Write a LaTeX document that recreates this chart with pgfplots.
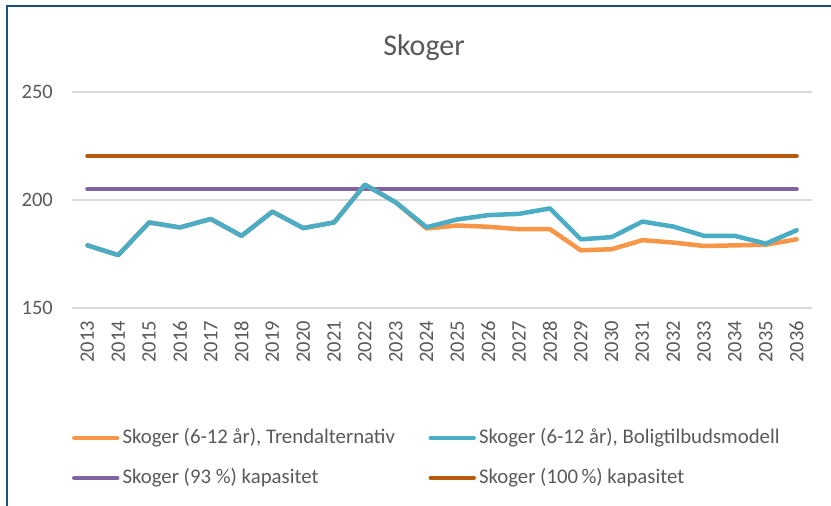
\documentclass[border=0pt]{standalone}
\usepackage{fontspec}
\setmainfont{Carlito}
\usepackage{pgfplots}
\pgfplotsset{compat=1.18}
\definecolor{trendc}{HTML}{F79646}
\definecolor{boligc}{HTML}{4BACC6}
\definecolor{cap93}{HTML}{8064A2}
\definecolor{cap100}{HTML}{B85A0D}
\definecolor{txtgrey}{HTML}{595959}
\definecolor{gridgrey}{HTML}{D9D9D9}
\definecolor{framec}{HTML}{1F4E79}
\begin{document}
\begin{tikzpicture}
\path[use as bounding box] (0,0) rectangle (831bp,506bp);
\draw[framec, line width=2bp] (6.5bp,0bp) -- (6.5bp,499.5bp) -- (831bp,499.5bp);
\node[anchor=base, text=txtgrey, font=\fontsize{30bp}{36bp}\selectfont, inner sep=0pt] at (424bp,450bp) {Skoger};
\begin{axis}[
  at={(72bp,198bp)}, anchor=south west,
  scale only axis, width=740bp, height=216bp,
  xmin=2012.5, xmax=2036.5, ymin=150, ymax=250,
  xtick={2013,...,2036}, ytick={150,200,250},
  major tick length=0pt,
  axis line style={draw=none},
  ymajorgrids, major grid style={gridgrey, line width=1.2bp},
  /pgf/number format/assume math mode=true,
  xticklabel style={/pgf/number format/1000 sep=, rotate=90, anchor=east, inner sep=0pt, text=txtgrey, font=\fontsize{20.5bp}{24bp}\selectfont},
  yticklabel style={anchor=east, inner sep=0pt, text=txtgrey, font=\fontsize{20.5bp}{24bp}\selectfont},
  xticklabel shift=13bp, yticklabel shift=19bp,
  clip=false,
  legend image code/.code={\draw[#1, line cap=round] (2.5bp,0bp) -- (45.5bp,0bp);},
  legend columns=2, legend cell align=left,
  legend style={draw=none, fill=none, inner sep=0pt, outer sep=0pt, column sep=3bp, row sep=20bp,
    at={(0,-0.5556)}, anchor=north west,
    nodes={inner sep=0pt, text width=303bp, align=flush left, text height=15bp, text depth=5bp, text=txtgrey, font=\fontsize{20.8bp}{24bp}\selectfont}},
  every axis plot/.append style={line width=4.5bp, line cap=round, line join=round},
]
\addlegendimage{trendc, line width=4.5bp}
\addlegendentry{Skoger (6-12 år), Trendalternativ}
\addlegendimage{boligc, line width=4.5bp}
\addlegendentry[text width=340bp]{Skoger (6-12 år), Boligtilbudsmodell}
\addlegendimage{cap93, line width=4.5bp}
\addlegendentry{Skoger (93 \%) kapasitet}
\addlegendimage{cap100, line width=4.5bp}
\addlegendentry[text width=340bp]{Skoger (100\,\%) kapasitet}
\addplot[cap100, forget plot] coordinates {(2013,220.4) (2036,220.4)};
\addplot[cap93, forget plot] coordinates {(2013,205.0) (2036,205.0)};
\addplot[trendc, forget plot] coordinates {
(2013,179.0) (2014,174.5) (2015,189.6) (2016,187.3) (2017,191.2) (2018,183.4)
(2019,194.6) (2020,187.0) (2021,189.6) (2022,207.1) (2023,198.9) (2024,186.8)
(2025,188.2) (2026,187.6) (2027,186.5) (2028,186.5) (2029,176.7) (2030,177.2)
(2031,181.4) (2032,180.3) (2033,178.7) (2034,179.0) (2035,179.3) (2036,181.8)};
\addplot[boligc, forget plot] coordinates {
(2013,179.0) (2014,174.5) (2015,189.6) (2016,187.3) (2017,191.2) (2018,183.4)
(2019,194.6) (2020,187.0) (2021,189.6) (2022,207.1) (2023,198.9) (2024,187.4)
(2025,191.0) (2026,193.0) (2027,193.6) (2028,196.1) (2029,181.8) (2030,182.8)
(2031,190.0) (2032,187.7) (2033,183.4) (2034,183.4) (2035,179.8) (2036,186.0)};
\end{axis}
\end{tikzpicture}
\end{document}
